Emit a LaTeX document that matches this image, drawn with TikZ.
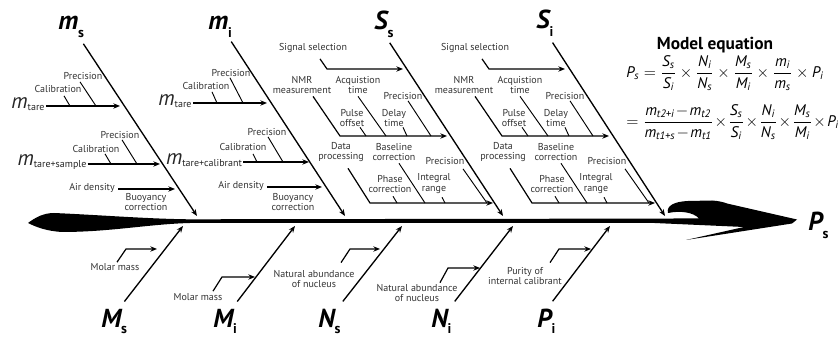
\documentclass[tikz,border=0pt]{standalone}
\usepackage{amsmath}
\usepackage{fontspec}
\setmainfont{PT Sans}
\usetikzlibrary{arrows.meta}

\begin{document}
\begin{tikzpicture}[x=0.75pt,y=0.75pt,yscale=-1,xscale=1,
  cause/.style={inner sep=0.75pt,align=center,text=black!80,font=\fontsize{7.5}{8.2}\selectfont},
  factor/.style={inner sep=0pt,anchor=base west,font=\fontsize{19.5}{20}\selectfont\bfseries\itshape},
  mass/.style={inner sep=0.75pt,text=black!85,font=\fontsize{16}{16}\selectfont\itshape},
  eqn/.style={anchor=west,inner sep=0pt,font=\fontsize{11.5}{14}\selectfont},
  bone/.style={line width=1pt,-{Stealth[length=5pt,width=4pt]}},
  twig/.style={line width=0.7pt},
  feed/.style={line width=0.9pt,-{Stealth[length=5pt,width=4pt]}}]
\useasboundingbox (0,0) rectangle (838,341);

%Shape: Spine with tail and head
\fill[black] (28,223) .. controls (36,217) and (44,213) .. (54,213) .. controls (100,215) and (150,219) .. (190,219.3) -- (650,218.6) -- (699,218.4) .. controls (693,212) and (680,210.5) .. (668,213) .. controls (666,206) and (674,201.5) .. (688,201) -- (712,200.5) .. controls (719,201) and (723,202) .. (727,203.5) -- (797,219.5) -- (792,223.5) -- (686,240) -- (744,227) -- (650,222.8) -- (190,223) .. controls (150,224) and (110,232) .. (62,232) .. controls (46,231) and (36,227) .. (28,223) -- cycle;
% Text Node
\draw (808,231) node [factor] (ps) {P\raisebox{-5.5pt}{\fontsize{10.5}{11}\selectfont\upshape s}};

%Points on spine
\coordinate (msH) at (197,216); \coordinate (miH) at (345,216); \coordinate (ssH) at (503,216); \coordinate (siH) at (665,216);
\coordinate (MsH) at (183,226); \coordinate (MiH) at (295,226); \coordinate (NsH) at (402,226); \coordinate (NiH) at (513,226); \coordinate (PiH) at (610,226);

%Bone: m_s
\draw (58,30) node [factor] (ms) {m\raisebox{-5.5pt}{\fontsize{10.5}{11}\selectfont\upshape s}};
\draw[bone] (ms.south east) ++(-1,6) -- (msH);
\coordinate (msF1) at (120,106); \coordinate (msF2) at (160,164); \coordinate (msF3) at (175,189);
\coordinate (msT1) at (96,106); \coordinate (msT2) at (70,106); \coordinate (msT3) at (137,164); \coordinate (msT4) at (111,164);
% Text Node
\draw (28,104) node [mass] (mt1) {m\raisebox{-1pt}{\fontsize{7.5}{8}\selectfont\upshape tare}};
\draw (83,76) node [cause] (msP1) {Precision};
\draw (58,89) node [cause] (msC1) {Calibration};
\draw (52,162) node [mass] (mts) {m\raisebox{-1pt}{\fontsize{7.5}{8}\selectfont\upshape tare+sample}};
\draw (120,135) node [cause] (msP2) {Precision};
\draw (96,149) node [cause] (msC2) {Calibration};
\draw (92,188) node [cause] (msA) {Air density};
\draw (146,202) node [cause] (msB) {Buoyancy\\correction};
%Straight Lines
\draw[feed] (mt1.east |- msF1) -- (msF1);
\draw[twig] (msP1.south) ++(-3,1) -- (msT1);
\draw[twig] (msC1.south) ++(6,2) -- (msT2);
\draw[feed] (mts.east |- msF2) -- (msF2);
\draw[twig] (msP2.south) ++(2,0) -- (msT3);
\draw[twig] (msC2.south) ++(9,0) -- (msT4);
\draw[feed] (msA.east |- msF3) ++(2,0) -- (msF3);

%Bone: m_i
\draw (208,30) node [factor] (mi) {m\raisebox{-5.5pt}{\fontsize{10.5}{11}\selectfont\upshape i}};
\draw[bone] (mi.south east) ++(-1,4) -- (miH);
\coordinate (miF1) at (267,103); \coordinate (miF2) at (309,162); \coordinate (miF3) at (322,187);
\coordinate (miT1) at (243,103); \coordinate (miT2) at (217,103); \coordinate (miT3) at (283,162); \coordinate (miT4) at (257,162);
% Text Node
\draw (175,101) node [mass] (mt2) {m\raisebox{-1pt}{\fontsize{7.5}{8}\selectfont\upshape tare}};
\draw (231,73) node [cause] (miP1) {Precision};
\draw (206,86) node [cause] (miC1) {Calibration};
\draw (204,160) node [mass] (mtc) {m\raisebox{-1pt}{\fontsize{7.5}{8}\selectfont\upshape tare+calibrant}};
\draw (267,132) node [cause] (miP2) {Precision};
\draw (243,147) node [cause] (miC2) {Calibration};
\draw (241,186) node [cause] (miA) {Air density};
\draw (293,202) node [cause] (miB) {Buoyancy\\correction};
%Straight Lines
\draw[feed] (mt2.east |- miF1) -- (miF1);
\draw[twig] (miP1.south) ++(-1,0) -- (miT1);
\draw[twig] (miC1.south) ++(6,1) -- (miT2);
\draw[feed] (mtc.east |- miF2) -- (miF2);
\draw[twig] (miP2.south) ++(1,0) -- (miT3);
\draw[twig] (miC2.south) ++(10,2) -- (miT4);
\draw[feed] (miA.east |- miF3) ++(2,0) -- (miF3);

%Bone: S_s
\draw (374,30) node [factor] (ss) {S\raisebox{-5.5pt}{\fontsize{10.5}{11}\selectfont\upshape s}};
\draw[bone] (ss.south east) ++(-4,5) -- (ssH);
\coordinate (ssB1) at (327,69); \coordinate (ssF1) at (403,69);
\coordinate (ssB2) at (340,136); \coordinate (ssF2) at (447,136);
\coordinate (ssB3) at (370,203); \coordinate (ssF3) at (493,203);
\coordinate (ssT1) at (386,136); \coordinate (ssT2) at (431,136); \coordinate (ssT3) at (366,136); \coordinate (ssT4) at (407,136);
\coordinate (ssT5) at (425,203); \coordinate (ssT6) at (487,203); \coordinate (ssT7) at (397,203); \coordinate (ssT8) at (445,203);
% Text Node
\draw (313,48) node [cause] (ssSig) {Signal selection};
\draw (302,85) node [cause] (ssNMR) {NMR\\measurement};
\draw (358,85) node [cause] (ssAcq) {Acquistion\\time};
\draw (403,96) node [cause] (ssP1) {Precision};
\draw (352,118) node [cause] (ssPul) {Pulse\\offset};
\draw (394,118) node [cause] (ssDel) {Delay\\time};
\draw (341,152) node [cause] (ssDat) {Data\\processing};
\draw (394,152) node [cause] (ssBas) {Baseline\\correction};
\draw (445,161) node [cause] (ssP2) {Precision};
\draw (390,184) node [cause] (ssPha) {Phase\\correction};
\draw (434,184) node [cause] (ssInt) {Integral\\range};
%Straight Lines
\draw[feed] (ssSig.south) ++(7,5) -- (ssB1) -- (ssF1);
\draw[feed] (ssNMR.south) ++(11,1) -- (ssB2) -- (ssF2);
\draw[twig] (ssAcq.south) ++(0,1) -- (ssT1);
\draw[twig] (ssP1.south) ++(5,0) -- (ssT2);
\draw[twig] (ssPul.south) ++(8,-1) -- (ssT3);
\draw[twig] (ssDel.south) ++(9,-1) -- (ssT4);
\draw[feed] (ssDat.south) ++(7,5) -- (ssB3) -- (ssF3);
\draw[twig] (ssBas.south) ++(5,1) -- (ssT5);
\draw[twig] (ssP2.south) ++(18,3) -- (ssT6);
\draw[twig] (ssPha.south) ++(3,2) -- (ssT7);
\draw[twig] (ssInt.south) ++(8,2) -- (ssT8);

%Bone: S_i
\draw (536,29) node [factor] (si) {S\raisebox{-5.5pt}{\fontsize{10.5}{11}\selectfont\upshape i}};
\draw[bone] (si.south east) ++(-1,6) -- (siH);
\coordinate (siB1) at (489,69); \coordinate (siF1) at (565,69);
\coordinate (siB2) at (502,136); \coordinate (siF2) at (609,136);
\coordinate (siB3) at (532,203); \coordinate (siF3) at (655,203);
\coordinate (siT1) at (548,136); \coordinate (siT2) at (593,136); \coordinate (siT3) at (528,136); \coordinate (siT4) at (569,136);
\coordinate (siT5) at (587,203); \coordinate (siT6) at (649,203); \coordinate (siT7) at (559,203); \coordinate (siT8) at (607,203);
% Text Node
\draw (475,48) node [cause] (siSig) {Signal selection};
\draw (464,85) node [cause] (siNMR) {NMR\\measurement};
\draw (520,85) node [cause] (siAcq) {Acquistion\\time};
\draw (565,96) node [cause] (siP1) {Precision};
\draw (514,118) node [cause] (siPul) {Pulse\\offset};
\draw (556,118) node [cause] (siDel) {Delay\\time};
\draw (503,152) node [cause] (siDat) {Data\\processing};
\draw (556,152) node [cause] (siBas) {Baseline\\correction};
\draw (607,161) node [cause] (siP2) {Precision};
\draw (552,184) node [cause] (siPha) {Phase\\correction};
\draw (596,184) node [cause] (siInt) {Integral\\range};
%Straight Lines
\draw[feed] (siSig.south) ++(7,5) -- (siB1) -- (siF1);
\draw[feed] (siNMR.south) ++(11,1) -- (siB2) -- (siF2);
\draw[twig] (siAcq.south) ++(0,1) -- (siT1);
\draw[twig] (siP1.south) ++(5,0) -- (siT2);
\draw[twig] (siPul.south) ++(8,-1) -- (siT3);
\draw[twig] (siDel.south) ++(9,-1) -- (siT4);
\draw[feed] (siDat.south) ++(7,5) -- (siB3) -- (siF3);
\draw[twig] (siBas.south) ++(5,1) -- (siT5);
\draw[twig] (siP2.south) ++(18,3) -- (siT6);
\draw[twig] (siPha.south) ++(3,2) -- (siT7);
\draw[twig] (siInt.south) ++(8,2) -- (siT8);

%Bones below the spine
\draw (101,328) node [factor] (Ms) {M\raisebox{-4.5pt}{\fontsize{10.5}{11}\selectfont\upshape s}};
\draw (213,328) node [factor] (Mi) {M\raisebox{-4.5pt}{\fontsize{10.5}{11}\selectfont\upshape i}};
\draw (318,328) node [factor] (Ns) {N\raisebox{-4.5pt}{\fontsize{10.5}{11}\selectfont\upshape s}};
\draw (431,328) node [factor] (Ni) {N\raisebox{-4.5pt}{\fontsize{10.5}{11}\selectfont\upshape i}};
\draw (537,328) node [factor] (Pi) {P\raisebox{-4.5pt}{\fontsize{10.5}{11}\selectfont\upshape i}};
\draw[bone] (Ms.north east) ++(-3,-8) -- (MsH);
\draw[bone] (Mi.north east) ++(0,-8) -- (MiH);
\draw[bone] (Ns.north east) ++(2,-8) -- (NsH);
\draw[bone] (Ni.north east) ++(3,-8) -- (NiH);
\draw[bone] (Pi.north east) ++(-3,-8) -- (PiH);
\coordinate (MsB) at (126,249); \coordinate (MsF) at (157,249);
\coordinate (MiB) at (222,277); \coordinate (MiF) at (255,277);
\coordinate (NsB) at (350,249); \coordinate (NsF) at (380,249);
\coordinate (NiB) at (448,268); \coordinate (NiF) at (480,268);
\coordinate (PiB) at (559,249); \coordinate (PiF) at (591,249);
% Text Node
\draw (115,267) node [cause] (mmS) {Molar mass};
\draw (198,297) node [cause] (mmI) {Molar mass};
\draw (314,279) node [cause] (naS) {Natural abundance\\of nucleus};
\draw (417,293) node [cause] (naI) {Natural abundance\\of nucleus};
\draw (525,276) node [cause] (pur) {Purity of\\internal calibrant};
%Straight Lines
\draw[feed] (mmS.north) ++(2,0) -- (MsB) -- (MsF);
\draw[feed] (mmI.north) ++(15,-1) -- (MiB) -- (MiF);
\draw[feed] (naS.north) ++(27,-6) -- (NsB) -- (NsF);
\draw[feed] (naI.north) ++(23,0) -- (NiB) -- (NiF);
\draw[feed] (pur.north) ++(25,-3) -- (PiB) -- (PiF);

%Model equation
\draw (715,45) node [font=\fontsize{13}{14}\selectfont\bfseries] (meq) {Model equation};
\draw (626,73) node [eqn] (eqa) {$\textit{P}_{\textit{s}}=\dfrac{\textit{S}_{\textit{s}}}{\textit{S}_{\textit{i}}}\times\dfrac{\textit{N}_{\textit{i}}}{\textit{N}_{\textit{s}}}\times\dfrac{\textit{M}_{\textit{s}}}{\textit{M}_{\textit{i}}}\times\dfrac{\textit{m}_{\textit{i}}}{\textit{m}_{\textit{s}}}\times\textit{P}_{\textit{i}}$};
\draw (626,122) node [eqn] (eqb) {$\medmuskip=1.5mu =\dfrac{\textit{m}_{\textit{t2+i}}-\textit{m}_{\textit{t2}}}{\textit{m}_{\textit{t1+s}}-\textit{m}_{\textit{t1}}}\times\dfrac{\textit{S}_{\textit{s}}}{\textit{S}_{\textit{i}}}\times\dfrac{\textit{N}_{\textit{i}}}{\textit{N}_{\textit{s}}}\times\dfrac{\textit{M}_{\textit{s}}}{\textit{M}_{\textit{i}}}\times\textit{P}_{\textit{i}}$};

\end{tikzpicture}
\end{document}
